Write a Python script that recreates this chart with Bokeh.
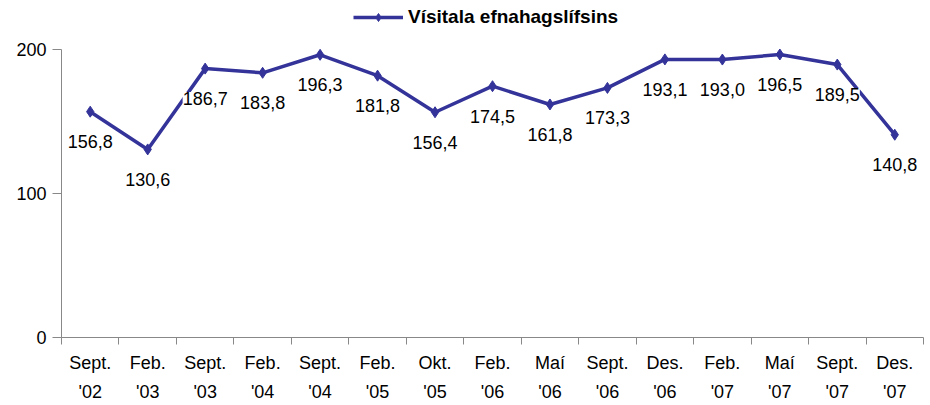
from bokeh.plotting import figure
from bokeh.models import Range1d, FixedTicker, ColumnDataSource, LabelSet, Legend, LegendItem
from bokeh.core.properties import value
from bokeh.embed import file_html
from bokeh.resources import INLINE

# ---- data ----
months = ["Sept.", "Feb.", "Sept.", "Feb.", "Sept.", "Feb.", "Okt.", "Feb.",
          "Maí", "Sept.", "Des.", "Feb.", "Maí", "Sept.", "Des."]
years = ["'02", "'03", "'03", "'04", "'04", "'05", "'05", "'06",
         "'06", "'06", "'06", "'07", "'07", "'07", "'07"]
values = [156.8, 130.6, 186.7, 183.8, 196.3, 181.8, 156.4, 174.5,
          161.8, 173.3, 193.1, 193.0, 196.5, 189.5, 140.8]
series_name = "Vísitala efnahagslífsins"
y_ticks = [0, 100, 200]
y_axis_max = 200

FONT = "Liberation Sans"
LINE_COLOR = "#333399"
AXIS_COLOR = "#888888"

n = len(values)
xs = [i + 0.5 for i in range(n)]
labels = [f"{v:.1f}".replace(".", ",") for v in values]
src = ColumnDataSource(dict(x=xs, y=values, label=labels))

# frame extends above the value axis top so the legend can live inside it
p = figure(width=930, height=405, output_backend="svg", toolbar_location=None,
           x_range=Range1d(0, n), y_range=Range1d(0, 234.0),
           min_border_left=61, min_border_right=7, min_border_top=0,
           min_border_bottom=68)
p.outline_line_color = None
p.xgrid.visible = False
p.ygrid.visible = False
p.background_fill_color = "white"
p.border_fill_color = "white"

line_r = p.line("x", "y", source=src, line_color=LINE_COLOR, line_width=3.5)
pt_r = p.scatter("x", "y", source=src, marker="diamond", size=11,
                 fill_color=LINE_COLOR, line_color=LINE_COLOR)

lbls = LabelSet(x="x", y="y", text="label", source=src, y_offset=-30,
                text_align="center", text_baseline="middle",
                text_font=value(FONT), text_font_size=value("18px"), text_color="black",
                background_fill_color="white")
p.add_layout(lbls)

# x axis
xa = p.xaxis[0]
xa.ticker = FixedTicker(ticks=xs, minor_ticks=list(range(n + 1)))
xa.major_label_overrides = {x: f"{m}\n{y}" for x, m, y in zip(xs, months, years)}
xa.major_tick_out = 0
xa.major_tick_in = 0
xa.minor_tick_out = 7
xa.minor_tick_in = 0
xa.minor_tick_line_color = AXIS_COLOR
xa.axis_line_color = AXIS_COLOR
xa.major_label_standoff = 8
xa.major_label_text_font = FONT
xa.major_label_text_font_size = "18px"
xa.major_label_text_color = "black"
xa.major_label_text_line_height = 1.45

# y axis
ya = p.yaxis[0]
ya.ticker = FixedTicker(ticks=y_ticks)
ya.bounds = (0, y_axis_max)
ya.minor_tick_line_color = None
ya.major_tick_out = 9
ya.major_tick_in = 0
ya.major_tick_line_color = AXIS_COLOR
ya.axis_line_color = AXIS_COLOR
ya.major_label_standoff = 6
ya.major_label_text_font = FONT
ya.major_label_text_font_size = "18px"
ya.major_label_text_color = "black"

legend = Legend(items=[LegendItem(label=series_name, renderers=[line_r, pt_r])],
                location=(292, 309), orientation="horizontal",
                label_text_font=FONT, label_text_font_size="19px",
                label_text_font_style="bold", label_text_color="black",
                glyph_width=50, glyph_height=20, label_height=20, label_standoff=5,
                border_line_color=None, background_fill_alpha=0,
                padding=0, margin=0, spacing=0)
p.add_layout(legend)

open("out.html", "w").write(file_html(p, INLINE))
